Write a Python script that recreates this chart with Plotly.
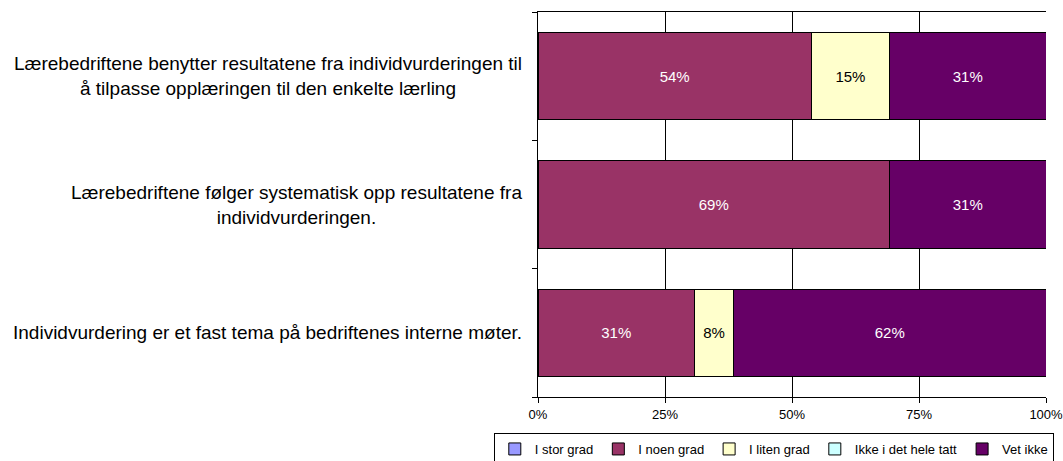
import plotly.graph_objects as go

categories = [
    "Individvurdering er et fast tema på bedriftenes interne møter.",
    "Lærebedriftene følger systematisk opp resultatene fra<br>individvurderingen.",
    "Lærebedriftene benytter resultatene fra individvurderingen til<br>å tilpasse opplæringen til den enkelte lærling",
]
series_names = ["I stor grad", "I noen grad", "I liten grad", "Ikke i det hele tatt", "Vet ikke"]
values = {
    "I stor grad": [0, 0, 0],
    "I noen grad": [30.8, 69.2, 53.8],
    "I liten grad": [7.7, 0, 15.4],
    "Ikke i det hele tatt": [0, 0, 0],
    "Vet ikke": [61.5, 30.8, 30.8],
}
colors = {
    "I stor grad": "#9999FF",
    "I noen grad": "#993366",
    "I liten grad": "#FFFFCC",
    "Ikke i det hele tatt": "#CCFFFF",
    "Vet ikke": "#660066",
}
text_colors = {
    "I stor grad": "black",
    "I noen grad": "white",
    "I liten grad": "black",
    "Ikke i det hele tatt": "black",
    "Vet ikke": "white",
}
xticks = [0, 25, 50, 75, 100]
xticklabels = ["0%", "25%", "50%", "75%", "100%"]

FONT = "Liberation Sans, Arial, sans-serif"
ypos = list(range(len(categories)))

fig = go.Figure()
for name in series_names:
    vals = values[name]
    fig.add_trace(go.Bar(
        name=name,
        y=ypos,
        x=vals,
        orientation="h",
        width=0.68,
        marker=dict(color=colors[name], line=dict(color="black", width=1)),
        text=[f"{v:.0f}%" if v > 0 else "" for v in vals],
        textposition="inside",
        insidetextanchor="middle",
        textangle=0,
        textfont=dict(color=text_colors[name], size=15, family=FONT),
        hoverinfo="skip",
    ))

for i, cat in enumerate(categories):
    fig.add_annotation(
        x=0, xref="paper", xanchor="right", xshift=-14,
        y=i, yref="y", yanchor="middle",
        text=cat, showarrow=False, align="center",
        font=dict(size=19, color="black", family=FONT),
    )

fig.update_layout(
    barmode="stack",
    width=1063, height=461,
    margin=dict(l=538, r=17, t=12, b=64, autoexpand=False),
    plot_bgcolor="white",
    paper_bgcolor="white",
    font=dict(family=FONT, color="black", size=13),
    uniformtext=dict(mode="show", minsize=8),
    legend=dict(
        orientation="h", x=-0.087, xanchor="left", y=-0.0935, yanchor="top",
        bordercolor="black", borderwidth=1, font=dict(size=13),
        traceorder="normal", itemwidth=30,
    ),
    showlegend=True,
)
fig.update_xaxes(
    range=[0, 100], tickvals=xticks, ticktext=xticklabels,
    showgrid=True, gridcolor="black", gridwidth=1,
    showline=True, linecolor="black", linewidth=1, mirror=True,
    ticks="outside", ticklen=5, tickcolor="black", zeroline=False,
    tickfont=dict(size=13), ticklabeloverflow="allow",
)
fig.update_yaxes(
    range=[-0.5, 2.5], tickvals=[-0.5, 0.5, 1.5, 2.5], showticklabels=False,
    showgrid=False, showline=True, linecolor="black", linewidth=1,
    ticks="outside", ticklen=5, tickcolor="black", zeroline=False,
)

fig.write_html(
    "out.html",
    config={"displayModeBar": False},
    post_script="document.body.style.margin='0';document.body.style.overflow='hidden';",
)
